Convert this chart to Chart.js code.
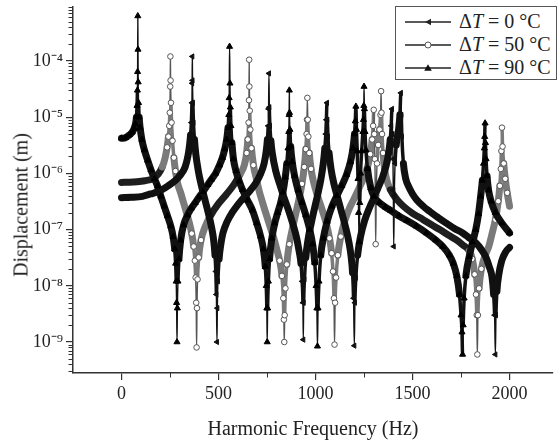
<!DOCTYPE html>
<html>
<head>
  <meta charset="utf-8">
  <title>Harmonic Frequency Response</title>
  <script src="https://cdn.jsdelivr.net/npm/chart.js"></script>
  <style>
    body {
      margin: 0;
      background: #fff;
    }
    #wrap {
      position: relative;
      width: 558px;
      height: 447px;
    }
    #yTitle {
      position: absolute;
      left: 21px;
      top: 205px;
      transform: translate(-50%, -50%) rotate(-90deg);
      font: 20px "Liberation Serif", serif;
      color: #222;
      white-space: nowrap;
    }
    #legend {
      position: absolute;
      left: 395px;
      top: 6px;
      width: 162px;
      height: 74px;
      box-sizing: border-box;
      border: 1px solid #555;
      background: #fff;
      font: 20px "Liberation Serif", serif;
      color: #222;
      padding-top: 3px;
    }
    .row {
      display: flex;
      align-items: center;
      height: 23px;
    }
    .row svg {
      margin-left: 9px;
      margin-right: 8px;
    }
  </style>
</head>
<body>
  <div id="wrap">
    <canvas id="chart" width="558" height="447"></canvas>
    <div id="yTitle">Displacement (m)</div>
    <div id="legend">
      <div class="row">
        <svg width="46" height="12"><line x1="0" y1="6" x2="46" y2="6" stroke="#222" stroke-width="1.3"/><polygon points="20,6 26,2.8 26,9.2" fill="#222"/></svg>
        <span>Δ<i>T</i> = 0 °C</span>
      </div>
      <div class="row">
        <svg width="46" height="12"><line x1="0" y1="6" x2="46" y2="6" stroke="#222" stroke-width="1.3"/><circle cx="23" cy="6" r="3" fill="#fff" stroke="#555" stroke-width="1"/></svg>
        <span>Δ<i>T</i> = 50 °C</span>
      </div>
      <div class="row">
        <svg width="46" height="12"><line x1="0" y1="6" x2="46" y2="6" stroke="#222" stroke-width="1.3"/><polygon points="23,2.2 26.8,8.8 19.2,8.8" fill="#111"/></svg>
        <span>Δ<i>T</i> = 90 °C</span>
      </div>
    </div>
  </div>

  <script>
    // [frequency Hz, displacement m]
    const dT0 = [
      [0,3.7e-7],[50,3.75e-7],[108,3.9e-7],[150,4.3e-7],[193,4.8e-7],[240,6.0e-7],[278,7.5e-7],[305,9.5e-7],
      [328,1.3e-6],[342,2.0e-6],[350,3.0e-6],[356,4.8e-6],[360,8.0e-6],[363,1.8e-5],[364,4.0e-5],[365,1.2e-4],
      [366,4.5e-5],[368,1.8e-5],[371,8.0e-6],[376,4.0e-6],[383,2.2e-6],[396,1.1e-6],[412,6.0e-7],[430,3.4e-7],
      [447,2.0e-7],[463,1.15e-7],[475,6.5e-8],[482,3.5e-8],[486,1.8e-8],[489,7.0e-9],[492,1.0e-9],[494,4.0e-9],
      [497,1.2e-8],[503,3.0e-8],[512,5.5e-8],[523,8.7e-8],[545,1.4e-7],[570,2.0e-7],[597,2.7e-7],[624,3.5e-7],
      [660,4.8e-7],[692,6.7e-7],[715,9.5e-7],[735,1.5e-6],[746,2.5e-6],[752,4.0e-6],[756,7.0e-6],[758,1.4e-5],
      [760,6.0e-5],[762,1.5e-5],[765,7.0e-6],[770,3.8e-6],[777,2.3e-6],[795,1.1e-6],[819,5.9e-7],[840,3.5e-7],
      [861,2.2e-7],[885,1.2e-7],[903,7.0e-8],[915,4.2e-8],[925,2.5e-8],[931,1.2e-8],[935,5.0e-9],[937,1.1e-9],
      [939,5.0e-9],[943,1.3e-8],[950,3.2e-8],[962,6.8e-8],[978,1.3e-7],[995,2.4e-7],[1012,4.3e-7],[1028,8.0e-7],
      [1040,1.5e-6],[1048,2.8e-6],[1053,5.0e-6],[1056,9.0e-6],[1059,1.8e-5],[1061,9.0e-6],[1064,4.5e-6],[1070,2.3e-6],
      [1080,1.2e-6],[1095,6.5e-7],[1115,3.6e-7],[1135,2.0e-7],[1155,1.1e-7],[1172,6.0e-8],[1183,3.4e-8],[1191,1.7e-8],
      [1196,6.0e-9],[1200,8.6e-10],[1203,5.0e-9],[1208,1.4e-8],[1217,3.5e-8],[1232,7.5e-8],[1252,1.4e-7],[1277,2.4e-7],
      [1300,3.6e-7],[1322,5.5e-7],[1345,8.5e-7],[1362,1.3e-6],[1376,2.2e-6],[1385,4.0e-6],[1390,7.0e-6],[1394,1.4e-5],
      [1397,5.0e-6],[1399,1.8e-6],[1401,5.0e-7],[1403,5.0e-8],[1406,4.0e-7],[1410,1.5e-6],[1416,3.2e-6],[1428,6.0e-6],
      [1435,1.1e-5],[1440,2.7e-5],[1442,1.1e-5],[1445,4.5e-6],[1453,1.5e-6],[1465,8.0e-7],[1479,5.9e-7],[1500,4.3e-7],
      [1521,3.4e-7],[1555,2.6e-7],[1589,2.1e-7],[1630,1.65e-7],[1674,1.3e-7],[1715,1.05e-7],[1758,8.7e-8],[1790,7.2e-8],
      [1826,5.8e-8],[1855,4.4e-8],[1877,3.3e-8],[1895,2.2e-8],[1910,1.4e-8],[1918,7.0e-9],[1923,3.0e-9],[1927,6.0e-10],
      [1930,3.0e-9],[1935,8.0e-9],[1945,1.6e-8],[1960,2.8e-8],[1980,4.0e-8],[2000,4.8e-8]
    ];

    const dT50 = [
      [0,6.9e-7],[40,6.95e-7],[80,7.1e-7],[120,7.4e-7],[160,8.0e-7],[190,9.8e-7],[210,1.3e-6],[225,1.9e-6],
      [235,2.9e-6],[242,4.5e-6],[246,7.0e-6],[249,1.2e-5],[251,3.5e-5],[252,1.2e-4],[253,4.5e-5],[255,1.8e-5],
      [258,8.0e-6],[263,3.8e-6],[270,1.9e-6],[278,1.1e-6],[290,6.5e-7],[305,4.5e-7],[320,3.0e-7],[335,2.0e-7],
      [350,1.3e-7],[362,8.5e-8],[372,5.0e-8],[378,2.8e-8],[382,1.4e-8],[385,5.0e-9],[387,8.0e-10],[389,4.0e-9],
      [392,1.3e-8],[398,3.2e-8],[410,6.5e-8],[430,1.1e-7],[460,1.8e-7],[497,2.8e-7],[540,4.2e-7],[582,6.5e-7],
      [610,9.5e-7],[633,1.4e-6],[645,2.3e-6],[651,4.0e-6],[655,8.0e-6],[657,2.0e-5],[658,1.05e-4],[659,3.5e-5],
      [661,1.3e-5],[664,6.0e-6],[670,2.8e-6],[680,1.4e-6],[695,8.0e-7],[710,4.8e-7],[726,3.1e-7],[745,1.9e-7],
      [765,1.15e-7],[785,7.0e-8],[800,4.5e-8],[815,2.8e-8],[827,1.5e-8],[834,6.0e-9],[837,2.5e-9],[839,1.0e-9],
      [841,3.0e-9],[845,9.0e-9],[852,2.4e-8],[865,5.5e-8],[880,1.0e-7],[898,1.9e-7],[915,3.5e-7],[930,6.5e-7],
      [942,1.3e-6],[950,2.7e-6],[954,5.0e-6],[956,9.0e-6],[958,2.2e-5],[960,9.0e-6],[963,4.5e-6],[968,2.3e-6],
      [977,1.2e-6],[990,7.0e-7],[1010,4.0e-7],[1035,2.2e-7],[1055,1.3e-7],[1072,7.0e-8],[1083,3.8e-8],[1090,1.8e-8],
      [1095,6.0e-9],[1098,9.0e-10],[1101,5.0e-9],[1106,1.4e-8],[1115,3.5e-8],[1130,7.5e-8],[1150,1.4e-7],[1175,2.4e-7],
      [1200,3.6e-7],[1225,5.5e-7],[1250,8.5e-7],[1268,1.3e-6],[1282,2.2e-6],[1292,4.0e-6],[1297,7.0e-6],[1300,1.35e-5],
      [1303,5.0e-6],[1306,1.8e-6],[1308,5.0e-7],[1310,5.5e-8],[1313,4.0e-7],[1317,1.5e-6],[1323,3.2e-6],[1330,6.0e-6],
      [1335,1.1e-5],[1338,2.9e-5],[1340,1.2e-5],[1343,5.0e-6],[1348,2.3e-6],[1356,1.2e-6],[1368,7.5e-7],[1386,5.1e-7],
      [1420,3.4e-7],[1453,2.6e-7],[1500,1.95e-7],[1555,1.5e-7],[1600,1.2e-7],[1640,1.0e-7],[1680,8.2e-8],[1724,6.6e-8],
      [1760,5.3e-8],[1792,4.2e-8],[1808,3.0e-8],[1820,1.6e-8],[1827,7.0e-9],[1831,3.0e-9],[1834,6.0e-10],[1837,3.0e-9],
      [1843,9.0e-9],[1855,2.0e-8],[1875,3.5e-8],[1893,5.0e-8],[1910,8.5e-8],[1927,1.5e-7],[1942,3.2e-7],[1950,6.0e-7],
      [1955,1.2e-6],[1958,2.5e-6],[1961,6.5e-6],[1964,3.0e-6],[1970,1.5e-6],[1978,8.0e-7],[1988,4.5e-7],[2000,2.6e-7]
    ];

    const dT90 = [
      [0,4.2e-6],[20,4.3e-6],[40,4.8e-6],[55,5.4e-6],[65,6.3e-6],[72,7.6e-6],[77,1.0e-5],[80,1.6e-5],
      [82,3.0e-5],[83,6.4e-5],[84,6.3e-4],[85,1.6e-4],[86,4.2e-5],[88,1.8e-5],[91,1.0e-5],[96,6.5e-6],
      [105,4.0e-6],[118,2.6e-6],[135,1.7e-6],[152,1.15e-6],[170,8.0e-7],[186,5.9e-7],[203,3.9e-7],[220,2.6e-7],
      [237,1.75e-7],[254,1.15e-7],[266,7.5e-8],[274,4.5e-8],[279,2.5e-8],[282,1.2e-8],[284,5.0e-9],[286,1.0e-9],
      [288,4.0e-9],[291,1.2e-8],[296,3.0e-8],[305,6.5e-8],[320,1.2e-7],[340,1.8e-7],[360,2.4e-7],[380,3.0e-7],
      [400,3.8e-7],[420,4.7e-7],[445,6.3e-7],[463,7.8e-7],[485,1.0e-6],[505,1.4e-6],[520,1.9e-6],[532,2.7e-6],
      [542,4.0e-6],[549,6.5e-6],[553,1.1e-5],[555,2.2e-5],[557,1.8e-4],[559,4.0e-5],[561,1.5e-5],[564,7.0e-6],
      [569,3.5e-6],[577,1.8e-6],[590,1.1e-6],[607,7.2e-7],[624,5.1e-7],[650,3.3e-7],[675,2.2e-7],[697,1.3e-7],
      [717,7.6e-8],[731,4.5e-8],[741,2.2e-8],[746,1.0e-8],[749,4.0e-9],[751,1.0e-9],[753,4.0e-9],[757,1.2e-8],
      [763,3.0e-8],[775,7.0e-8],[790,1.3e-7],[805,2.0e-7],[819,2.9e-7],[832,4.6e-7],[844,8.5e-7],[852,1.5e-6],
      [858,2.8e-6],[862,5.5e-6],[864,1.1e-5],[865,3.0e-5],[866,1.2e-5],[868,6.0e-6],[872,3.0e-6],[880,1.6e-6],
      [892,9.0e-7],[910,5.0e-7],[930,3.0e-7],[950,1.8e-7],[970,1.0e-7],[985,5.5e-8],[996,2.6e-8],[1003,1.0e-8],
      [1007,4.0e-9],[1010,8.4e-10],[1013,4.0e-9],[1018,1.2e-8],[1027,3.5e-8],[1040,7.0e-8],[1060,1.4e-7],[1085,2.6e-7],
      [1110,4.0e-7],[1135,6.0e-7],[1160,9.5e-7],[1180,1.6e-6],[1193,2.8e-6],[1201,5.0e-6],[1205,8.5e-6],[1208,1.55e-5],
      [1211,6.0e-6],[1215,2.5e-6],[1219,8.0e-7],[1222,2.0e-7],[1225,6.0e-8],[1228,3.0e-7],[1232,1.0e-6],[1238,2.5e-6],
      [1244,5.5e-6],[1247,9.0e-6],[1249,1.6e-5],[1250,3.5e-5],[1252,1.4e-5],[1255,5.5e-6],[1260,2.6e-6],[1268,1.2e-6],
      [1285,5.5e-7],[1301,3.9e-7],[1330,3.0e-7],[1360,2.5e-7],[1386,2.2e-7],[1430,1.75e-7],[1471,1.45e-7],[1520,1.15e-7],
      [1572,8.7e-8],[1620,6.5e-8],[1656,5.0e-8],[1690,3.5e-8],[1710,2.5e-8],[1728,1.5e-8],[1742,7.0e-9],[1750,3.0e-9],
      [1755,1.5e-9],[1758,6.0e-10],[1761,2.0e-9],[1766,6.0e-9],[1775,1.5e-8],[1792,3.3e-8],[1810,6.0e-8],[1826,1.0e-7],
      [1840,1.9e-7],[1851,3.9e-7],[1860,7.5e-7],[1866,1.5e-6],[1870,2.8e-6],[1872,4.5e-6],[1874,7.8e-6],[1876,3.5e-6],
      [1879,1.8e-6],[1884,9.0e-7],[1892,5.0e-7],[1905,3.2e-7],[1927,2.0e-7],[1961,1.3e-7],[2000,8.7e-8]
    ];

    const xMajorTicks = [0, 500, 1000, 1500, 2000];
    const xMinorTicks = [250, 750, 1250, 1750];
    const yMajorTicks = [1e-9, 1e-8, 1e-7, 1e-6, 1e-5, 1e-4];

    const FONT = 'Liberation Serif';
    const SUP = {'-': '\u207B', '0': '\u2070', '1': '\u00B9', '2': '\u00B2', '3': '\u00B3', '4': '\u2074',
                 '5': '\u2075', '6': '\u2076', '7': '\u2077', '8': '\u2078', '9': '\u2079'};
    const sup = n => String(n).split('').map(c => SUP[c]).join('');

    // steep parts of the curves are stacks of markers on a thin line, flat parts are thick bands
    const slope = s => Math.abs(s.p1.y - s.p0.y) / Math.max(Math.abs(s.p1.x - s.p0.x), 0.01);
    const bandWidth = s => {
      const m = slope(s);
      return m > 40 ? 1.4 : (m > 12 ? 3.5 : 7);
    };

    // pixel slope around a point, used to hide markers sunk in the flat bands
    function pointSlope(ctx) {
      const chart = ctx.chart;
      const pts = chart.data.datasets[ctx.datasetIndex].data;
      const i = ctx.dataIndex;
      const sx = chart.scales.x, sy = chart.scales.y;
      let m = 0;
      [i - 1, i + 1].forEach(j => {
        if (j < 0 || j >= pts.length || !pts[i]) return;
        const dx = Math.abs(sx.getPixelForValue(pts[j].x) - sx.getPixelForValue(pts[i].x));
        const dy = Math.abs(sy.getPixelForValue(pts[j].y) - sy.getPixelForValue(pts[i].y));
        m = Math.max(m, dy / Math.max(dx, 0.01));
      });
      return m;
    }

    function series(label, pts, extra) {
      return Object.assign({
        label,
        data: pts.map(p => ({ x: p[0], y: p[1] })),
        borderColor: '#111',
        cubicInterpolationMode: 'monotone',
        borderJoinStyle: 'round',
        borderCapStyle: 'round',
        pointBorderWidth: 1,
        segment: { borderWidth: bandWidth }
      }, extra);
    }

    const minorTicks = {
      id: 'minorTicks',
      afterDraw(chart) {
        const { ctx, chartArea: a, scales: { x, y } } = chart;
        ctx.save();
        ctx.strokeStyle = '#333';
        ctx.lineWidth = 1;
        ctx.beginPath();
        for (let e = -10; e <= -4; e++) {
          for (let k = 2; k <= 9; k++) {
            const v = k * Math.pow(10, e);
            if (v < y.min || v > y.max) continue;
            const py = Math.round(y.getPixelForValue(v)) + 0.5;
            ctx.moveTo(a.left - 4.5, py);
            ctx.lineTo(a.left, py);
          }
        }
        xMinorTicks.forEach(v => {
          const px = Math.round(x.getPixelForValue(v)) + 0.5;
          ctx.moveTo(px, a.bottom);
          ctx.lineTo(px, a.bottom + 4.5);
        });
        ctx.stroke();
        ctx.restore();
      }
    };

    new Chart(document.getElementById('chart'), {
      type: 'line',
      data: {
        datasets: [
          series('ΔT = 0 °C', dT0, {
            order: 1,
            pointStyle: 'triangle',
            pointRotation: 270,
            pointRadius: 3,
            pointBackgroundColor: '#111',
            pointBorderColor: '#111'
          }),
          series('ΔT = 50 °C', dT50, {
            order: 2,
            pointStyle: 'circle',
            pointRadius: ctx => pointSlope(ctx) > 6 ? 2.8 : 0,
            pointBackgroundColor: '#fff',
            pointBorderColor: '#555',
            segment: {
              borderWidth: bandWidth,
              borderColor: s => slope(s) < 2 ? '#1e1e1e' : (slope(s) > 40 ? '#555' : '#7a7a7a')
            }
          }),
          series('ΔT = 90 °C', dT90, {
            order: 0,
            pointStyle: 'triangle',
            pointRadius: 3.5,
            pointBackgroundColor: '#000',
            pointBorderColor: '#000'
          })
        ]
      },
      options: {
        responsive: false,
        animation: false,
        events: [],
        layout: { padding: { top: 7, left: 0, right: 0, bottom: 0 } },
        plugins: {
          legend: { display: false },
          tooltip: { enabled: false }
        },
        scales: {
          x: {
            type: 'linear',
            min: -250,
            max: 2224,
            bounds: 'data',
            afterBuildTicks: s => { s.ticks = xMajorTicks.map(v => ({ value: v })); },
            afterFit: s => { s.height = 74; s.paddingLeft = 0; s.paddingRight = 0; },
            grid: { display: true, drawOnChartArea: false, tickLength: 7, color: '#333', lineWidth: 1.2 },
            border: { display: true, color: '#333', width: 1.5 },
            ticks: {
              autoSkip: false,
              maxRotation: 0,
              padding: 3,
              color: '#222',
              font: { family: FONT, size: 18 },
              callback: v => String(v)
            },
            title: {
              display: true,
              text: 'Harmonic Frequency (Hz)',
              color: '#222',
              font: { family: FONT, size: 20 },
              padding: { top: 0, bottom: 5 }
            }
          },
          y: {
            type: 'logarithmic',
            min: 2.81e-10,
            max: 9.1e-4,
            bounds: 'data',
            afterBuildTicks: s => { s.ticks = yMajorTicks.map(v => ({ value: v, major: true })); },
            afterFit: s => { s.width = 73; s.paddingTop = 0; s.paddingBottom = 0; },
            grid: { display: true, drawOnChartArea: false, tickLength: 7, color: '#333', lineWidth: 1.2 },
            border: { display: true, color: '#333', width: 1.5 },
            ticks: {
              autoSkip: false,
              padding: 3,
              color: '#222',
              font: { family: FONT, size: 18 },
              callback: v => '10' + sup(Math.round(Math.log10(v)))
            }
          }
        }
      },
      plugins: [minorTicks]
    });
  </script>
</body>
</html>
